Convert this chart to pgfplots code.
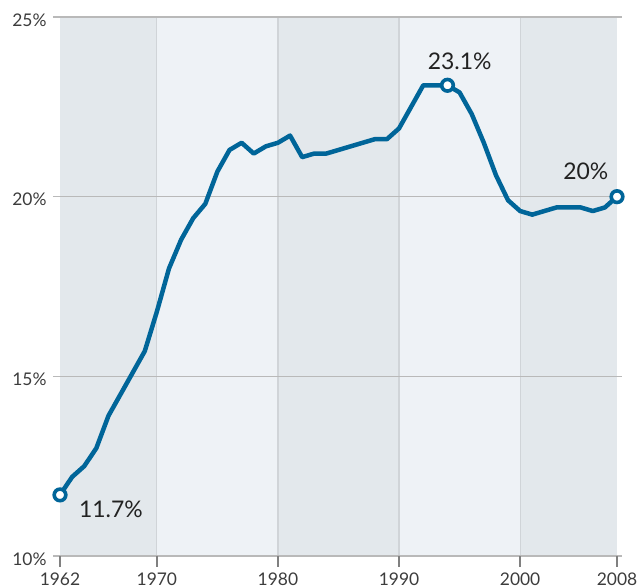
\documentclass[border=0pt]{standalone}
\usepackage{pgfplots}
\pgfplotsset{compat=1.18}
\usepackage{fontspec}
\setmainfont{Lato}
\definecolor{lineblue}{RGB}{0,101,153}
\definecolor{banddark}{RGB}{227,232,236}
\definecolor{bandlight}{RGB}{238,242,246}
\definecolor{decline}{RGB}{208,212,216}
\definecolor{gridgray}{RGB}{185,185,185}
\definecolor{ticktext}{RGB}{60,60,60}
\definecolor{anntext}{RGB}{34,34,34}
\begin{document}
\begin{tikzpicture}
\useasboundingbox (-60bp,-32bp) rectangle (577bp,556bp);
\begin{axis}[
  scale only axis,
  width=557bp, height=539bp,
  xmin=1962, xmax=2008,
  ymin=10, ymax=25,
  axis line style={draw=none},
  clip=false,
  major tick length=0pt,
  xtick={1962,1970,1980,1990,2000,2008},
  xticklabels={1962,1970,1980,1990,2000,2008},
  ytick={10,15,20,25},
  yticklabels={10\%,15\%,20\%,25\%},
  tick label style={font=\fontsize{17.5}{17.5}\selectfont, text=ticktext},
  xticklabel style={anchor=base, yshift=-29bp},
  yticklabel style={anchor=east, xshift=-10bp, yshift=-3bp},
  /pgf/number format/assume math mode=true,
]
% background bands
\fill[banddark]  (axis cs:1962,10) rectangle (axis cs:1970,25);
\fill[bandlight] (axis cs:1970,10) rectangle (axis cs:1980,25);
\fill[banddark]  (axis cs:1980,10) rectangle (axis cs:1990,25);
\fill[bandlight] (axis cs:1990,10) rectangle (axis cs:2000,25);
\fill[banddark]  (axis cs:2000,10) rectangle (axis cs:2008,25);
% decade lines
\pgfplotsinvokeforeach{1970,1980,1990,2000}{
  \draw[decline, line width=1.2bp] (axis cs:#1,10) -- (axis cs:#1,25);
}
% horizontal grid lines
\pgfplotsinvokeforeach{10,15,20,25}{
  \draw[gridgray, line width=1.2bp] ([xshift=-7bp]axis cs:1962,#1) -- ([xshift=5bp]axis cs:2008,#1);
}
% x ticks
\pgfplotsinvokeforeach{1962,1970,1980,1990,2000,2008}{
  \draw[gray, line width=1.5bp] (axis cs:#1,10) -- ([yshift=-11bp]axis cs:#1,10);
}
\addplot[lineblue, line width=4.5bp, line join=round, line cap=round] coordinates {
(1962,11.7) (1963,12.2) (1964,12.5) (1965,13.0) (1966,13.9) (1967,14.5)
(1968,15.1) (1969,15.7) (1970,16.8) (1971,18.0) (1972,18.8) (1973,19.4)
(1974,19.8) (1975,20.7) (1976,21.3) (1977,21.5) (1978,21.2) (1979,21.4)
(1980,21.5) (1981,21.7) (1982,21.1) (1983,21.2) (1984,21.2) (1985,21.3)
(1986,21.4) (1987,21.5) (1988,21.6) (1989,21.6) (1990,21.9) (1991,22.5)
(1992,23.1) (1993,23.1) (1994,23.1) (1995,22.9) (1996,22.3) (1997,21.5)
(1998,20.6) (1999,19.9) (2000,19.6) (2001,19.5) (2002,19.6) (2003,19.7)
(2004,19.7) (2005,19.7) (2006,19.6) (2007,19.7) (2008,20.0)
};
\addplot[only marks, mark=*, mark size=5.8bp, mark options={draw=lineblue, fill=white, line width=3.6bp}] coordinates {
(1962,11.7) (1994,23.1) (2008,20.0)
};
\node[anchor=base, text=anntext, font=\fontsize{23}{23}\selectfont] at (axis cs:1966.2,11.08) {11.7\%};
\node[anchor=base, text=anntext, font=\fontsize{23}{23}\selectfont] at (axis cs:1995.0,23.54) {23.1\%};
\node[anchor=base, text=anntext, font=\fontsize{23}{23}\selectfont] at (axis cs:2005.43,20.48) {20\%};
\end{axis}
\end{tikzpicture}
\end{document}
